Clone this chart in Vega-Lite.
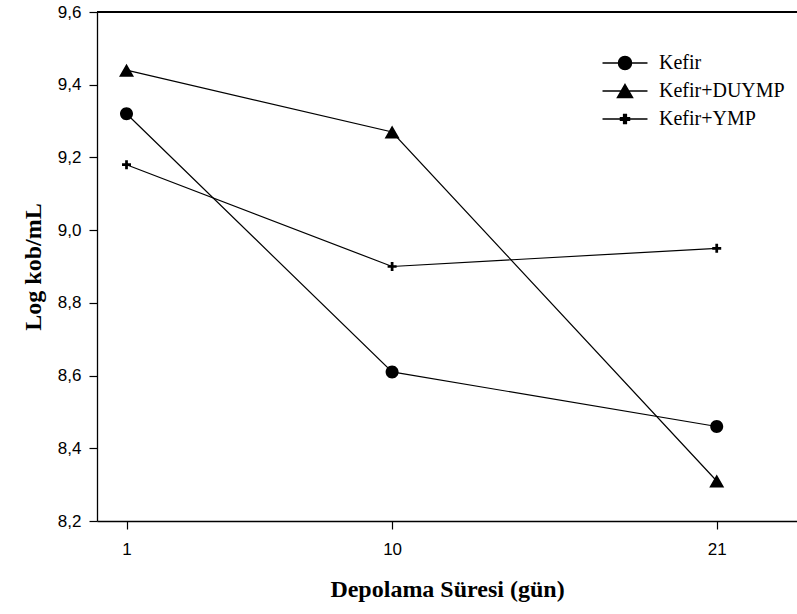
{
  "$schema": "https://vega.github.io/schema/vega-lite/v6.json",
  "width": 700,
  "height": 509,
  "autosize": {"type": "none"},
  "padding": {"left": 97, "top": 12, "right": 0, "bottom": 93},
  "background": "white",
  "config": {
    "view": {"stroke": null},
    "locale": {"number": {"decimal": ",", "thousands": ".", "grouping": [3], "currency": ["", " €"]}},
    "axis": {
      "domainColor": "black",
      "domainWidth": 1.3,
      "tickColor": "black",
      "tickWidth": 1.2,
      "tickSize": 8,
      "grid": false,
      "labelFont": "Liberation Sans",
      "labelFontSize": 17,
      "labelColor": "black",
      "titleFont": "Liberation Serif",
      "titleFontWeight": "bold",
      "titleFontSize": 24,
      "titleColor": "black"
    }
  },
  "data": {
    "values": [
      {"gun": 1, "log": 9.32, "seri": "Kefir"},
      {"gun": 10, "log": 8.61, "seri": "Kefir"},
      {"gun": 21, "log": 8.46, "seri": "Kefir"},
      {"gun": 1, "log": 9.44, "seri": "Kefir+DUYMP"},
      {"gun": 10, "log": 9.27, "seri": "Kefir+DUYMP"},
      {"gun": 21, "log": 8.31, "seri": "Kefir+DUYMP"},
      {"gun": 1, "log": 9.18, "seri": "Kefir+YMP"},
      {"gun": 10, "log": 8.90, "seri": "Kefir+YMP"},
      {"gun": 21, "log": 8.95, "seri": "Kefir+YMP"}
    ]
  },
  "encoding": {
    "x": {
      "field": "gun",
      "type": "quantitative",
      "scale": {"domain": [0, 23.72], "nice": false, "zero": false},
      "axis": {"values": [1, 10, 21], "title": "Depolama Süresi (gün)", "labelPadding": 12, "titlePadding": 20}
    },
    "y": {
      "field": "log",
      "type": "quantitative",
      "scale": {"domain": [8.2, 9.6], "nice": false, "zero": false},
      "axis": {"values": [8.2, 8.4, 8.6, 8.8, 9.0, 9.2, 9.4, 9.6], "format": ".1f", "title": "Log kob/mL", "labelPadding": 8, "titlePadding": 12}
    }
  },
  "layer": [
    {
      "mark": {"type": "rule", "color": "black", "strokeWidth": 1.3},
      "encoding": {"x": null, "y": {"datum": 9.6}}
    },
    {
      "mark": {"type": "line", "strokeWidth": 1.2},
      "encoding": {
        "stroke": {
          "field": "seri",
          "type": "nominal",
          "scale": {"domain": ["Kefir", "Kefir+DUYMP", "Kefir+YMP"], "range": ["black", "black", "black"]},
          "legend": {
            "title": null,
            "orient": "none",
            "legendX": 518,
            "legendY": 41,
            "symbolSize": 169,
            "symbolStrokeWidth": 1.5,
            "labelFont": "Liberation Serif",
            "labelFontSize": 20,
            "labelColor": "black",
            "labelOffset": 24,
            "rowPadding": 8
          }
        }
      }
    },
    {
      "mark": {"type": "point", "filled": true, "fill": "black", "opacity": 1, "size": 169},
      "encoding": {
        "shape": {
          "field": "seri",
          "type": "nominal",
          "scale": {
            "domain": ["Kefir", "Kefir+DUYMP", "Kefir+YMP"],
            "range": [
              "M-3.46,0L3.46,0M1,0A1,1,0,1,1,-1,0A1,1,0,1,1,1,0Z",
              "M-3.46,0L3.46,0M0,-1L1.154,1L-1.154,1Z",
              "M-3.46,0L3.46,0M-0.69,-0.21L-0.21,-0.21L-0.21,-0.69L0.21,-0.69L0.21,-0.21L0.69,-0.21L0.69,0.21L0.21,0.21L0.21,0.69L-0.21,0.69L-0.21,0.21L-0.69,0.21Z"
            ]
          },
          "legend": {
            "title": null,
            "orient": "none",
            "legendX": 518,
            "legendY": 41,
            "symbolSize": 169,
            "symbolStrokeWidth": 1.5,
            "symbolFillColor": "black",
            "labelFont": "Liberation Serif",
            "labelFontSize": 20,
            "labelColor": "black",
            "labelOffset": 24,
            "rowPadding": 8
          }
        }
      }
    }
  ]
}
